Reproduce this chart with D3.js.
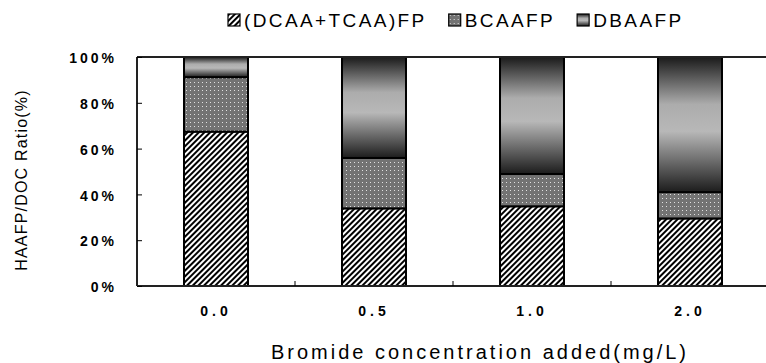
<!DOCTYPE html>
<html>
<head>
<meta charset="utf-8">
<script src="https://cdn.jsdelivr.net/npm/d3@7"></script>
<style>
  body { margin: 0; background: #fff; }
  svg { display: block; }
  text { font-family: "Liberation Sans", Arial, sans-serif; fill: #000; }
</style>
</head>
<body>
<div id="chart"></div>
<script>
// data (percent of HAAFP/DOC)
var categories = ["0.0", "0.5", "1.0", "2.0"];
var seriesNames = ["(DCAA+TCAA)FP", "BCAAFP", "DBAAFP"];
var dctcaa = [67.4, 33.9, 34.8, 29.5];
var bcaa = [23.8, 22.0, 14.1, 11.5];
var dbaa = [8.8, 44.1, 51.1, 59.0];
var yTicks = [0, 20, 40, 60, 80, 100];

var svgWidth = 766;
var svgHeight = 363;

var margin = { top: 57, right: -3, bottom: 77, left: 137 };
var width = svgWidth - margin.left - margin.right;
var height = svgHeight - margin.top - margin.bottom;

var svg = d3.select("#chart")
  .append("svg")
  .attr("width", svgWidth)
  .attr("height", svgHeight);

// fills: hatch, dots, gradient
var defs = svg.append("defs");

var hatch = defs.append("pattern")
  .attr("id", "hatch")
  .attr("patternUnits", "userSpaceOnUse")
  .attr("width", 4)
  .attr("height", 4)
  .attr("patternTransform", "rotate(45)");
hatch.append("rect").attr("width", 4).attr("height", 4).attr("fill", "#fff");
hatch.append("rect").attr("width", 2).attr("height", 4).attr("fill", "#000");

var dots = defs.append("pattern")
  .attr("id", "dots")
  .attr("patternUnits", "userSpaceOnUse")
  .attr("width", 4)
  .attr("height", 4);
dots.append("rect").attr("width", 4).attr("height", 4).attr("fill", "#737373");
dots.append("rect").attr("x", 1).attr("y", 1).attr("width", 1).attr("height", 1).attr("fill", "#e0e0e0");

var grad = defs.append("linearGradient")
  .attr("id", "shade")
  .attr("x1", 0).attr("y1", 0).attr("x2", 0).attr("y2", 1);
grad.append("stop").attr("offset", "0%").attr("stop-color", "#1a1a1a");
grad.append("stop").attr("offset", "35%").attr("stop-color", "#acacac");
grad.append("stop").attr("offset", "55%").attr("stop-color", "#b8b8b8");
grad.append("stop").attr("offset", "100%").attr("stop-color", "#1c1c1c");

var fills = ["url(#hatch)", "url(#dots)", "url(#shade)"];

var chartGroup = svg.append("g")
  .attr("transform", `translate(${margin.left}, ${margin.top})`);

var xScale = d3.scaleBand()
  .domain(categories)
  .range([0, 4 * 158])
  .paddingInner(0.595)
  .paddingOuter(0.2975);

var yScale = d3.scaleLinear()
  .domain([0, 100])
  .range([height, 0]);

// stacked rows
var rows = categories.map(function(c, i) {
  return { cat: c, s0: dctcaa[i], s1: bcaa[i], s2: dbaa[i] };
});
var stack = d3.stack().keys(["s0", "s1", "s2"]);
var layers = stack(rows);

var layerGroups = chartGroup.selectAll(".layer")
  .data(layers)
  .enter()
  .append("g")
  .attr("class", "layer")
  .attr("fill", (d, i) => fills[i]);

layerGroups.selectAll("rect")
  .data(d => d)
  .enter()
  .append("rect")
  .attr("x", d => xScale(d.data.cat))
  .attr("y", d => yScale(Math.min(d[1], 100)))
  .attr("width", xScale.bandwidth())
  .attr("height", d => yScale(d[0]) - yScale(Math.min(d[1], 100)))
  .attr("stroke", "#000")
  .attr("stroke-width", 2);

// frame: top, left, bottom lines
chartGroup.append("line")
  .attr("x1", 0).attr("x2", width).attr("y1", 0).attr("y2", 0)
  .attr("stroke", "#222").attr("stroke-width", 2);
chartGroup.append("line")
  .attr("x1", 0).attr("x2", width).attr("y1", height).attr("y2", height)
  .attr("stroke", "#222").attr("stroke-width", 2);
chartGroup.append("line")
  .attr("x1", 0).attr("x2", 0).attr("y1", 0).attr("y2", height)
  .attr("stroke", "#222").attr("stroke-width", 2);

// y axis
var leftAxis = d3.axisLeft(yScale)
  .tickValues(yTicks)
  .tickFormat(d => d + "%")
  .tickSizeInner(-5)
  .tickSizeOuter(0)
  .tickPadding(20);

var yAxis = chartGroup.append("g").call(leftAxis);
yAxis.select(".domain").remove();
yAxis.selectAll("line").attr("stroke", "#000");
yAxis.selectAll("text")
  .attr("font-size", 14)
  .attr("font-weight", "bold")
  .attr("letter-spacing", "3px")
  .attr("dy", "0.4em")
  .attr("font-family", "Liberation Sans, Arial, sans-serif");

// x axis: labels under bars, small ticks between categories
var bottomAxis = d3.axisBottom(xScale)
  .tickSize(0)
  .tickPadding(20);
var xAxis = chartGroup.append("g")
  .attr("transform", `translate(0, ${height})`)
  .call(bottomAxis);
xAxis.select(".domain").remove();
xAxis.selectAll("text")
  .attr("font-size", 14)
  .attr("font-weight", "bold")
  .attr("letter-spacing", "4px")
  .attr("font-family", "Liberation Sans, Arial, sans-serif");

var step = xScale.step();
chartGroup.selectAll(".xtick")
  .data(categories.slice(1))
  .enter()
  .append("line")
  .attr("class", "xtick")
  .attr("x1", d => xScale(d) - (step - xScale.bandwidth()) / 2)
  .attr("x2", d => xScale(d) - (step - xScale.bandwidth()) / 2)
  .attr("y1", height)
  .attr("y2", height - 5)
  .attr("stroke", "#000");

// axis titles
svg.append("text")
  .attr("x", 480)
  .attr("y", 359)
  .attr("text-anchor", "middle")
  .attr("font-size", 20)
  .attr("letter-spacing", "3px")
  .text("Bromide concentration added(mg/L)");

svg.append("text")
  .attr("transform", "translate(27, 180) rotate(-90)")
  .attr("text-anchor", "middle")
  .attr("font-size", 16)
  .attr("letter-spacing", "1.2px")
  .text("HAAFP/DOC Ratio(%)");

// legend, laid out left to right
var legend = svg.append("g").attr("transform", "translate(228, 14)");
var lx = 0;
seriesNames.forEach(function(name, i) {
  var item = legend.append("g").attr("transform", `translate(${lx}, 0)`);
  item.append("rect")
    .attr("width", 12)
    .attr("height", 12)
    .attr("fill", fills[i])
    .attr("stroke", "#000")
    .attr("stroke-width", 1.2);
  var t = item.append("text")
    .attr("x", 16)
    .attr("y", 13)
    .attr("font-size", 19)
    .attr("letter-spacing", "2.4px")
    .text(name);
  lx += 16 + t.node().getBBox().width + 22;
});
</script>
</body>
</html>
